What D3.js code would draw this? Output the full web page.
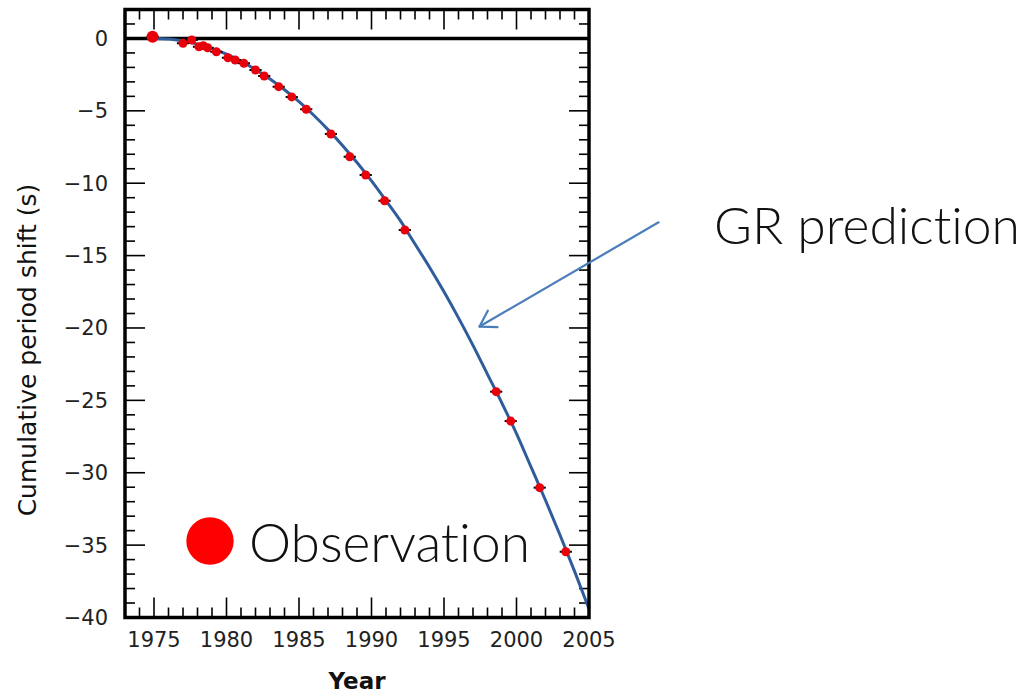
<!DOCTYPE html>
<html>
<head>
<meta charset="utf-8">
<script src="https://cdn.jsdelivr.net/npm/d3@7"></script>
<style>
  html, body { margin: 0; padding: 0; background: #fff; }
  svg { display: block; }
  .tick-label { font-family: "DejaVu Sans", sans-serif; font-size: 21px; fill: #222; }
  .axis-title { font-family: "DejaVu Sans", sans-serif; fill: #111; }
  .note { font-family: "Lato", "Open Sans", sans-serif; font-weight: 300; fill: #111;
          font-variant-ligatures: none; font-feature-settings: "liga" 0, "clig" 0; }
</style>
</head>
<body>
<svg id="chart" width="1033" height="694"></svg>
<script>
// Observed cumulative shift of periastron time (PSR B1913+16)
const obsYears  = [1974.9, 1977.0, 1977.6, 1978.1, 1978.4, 1978.7, 1979.3, 1980.1, 1980.6, 1981.2,
                   1982.0, 1982.6, 1983.6, 1984.5, 1985.5, 1987.2, 1988.5, 1989.6, 1990.9, 1992.3,
                   1998.6, 1999.6, 2001.6, 2003.4];
const obsShifts = [0.12, -0.34, -0.11, -0.57, -0.50, -0.64, -0.92, -1.33, -1.49, -1.72,
                   -2.18, -2.59, -3.33, -4.04, -4.89, -6.60, -8.17, -9.43, -11.21, -13.23,
                   -24.40, -26.43, -31.03, -35.46];

// General relativity prediction, sampled yearly
const grYears  = [1975, 1976, 1977, 1978, 1979, 1980, 1981, 1982, 1983, 1984, 1985,
                  1986, 1987, 1988, 1989, 1990, 1991, 1992, 1993, 1994, 1995,
                  1996, 1997, 1998, 1999, 2000, 2001, 2002, 2003, 2004, 2005];
const grShifts = [0, -0.04, -0.18, -0.39, -0.70, -1.09, -1.58, -2.14, -2.80, -3.54, -4.37,
                  -5.29, -6.30, -7.39, -8.57, -9.84, -11.2, -12.6, -14.2, -15.8, -17.5,
                  -19.3, -21.2, -23.2, -25.2, -27.3, -29.6, -31.9, -34.3, -36.8, -39.4];

const xTickLabels = [1975, 1980, 1985, 1990, 1995, 2000, 2005];
const yTickLabels = [0, -5, -10, -15, -20, -25, -30, -35, -40];

const svg = d3.select("#chart");
const W = 1033, H = 694;
svg.append("rect").attr("width", W).attr("height", H).attr("fill", "#fff");

const pLeft = 125, pRight = 589, pTop = 9.5, pBottom = 617.5;
const x = d3.scaleLinear().domain([1973, 2005]).range([pLeft, pRight]);
const y = d3.scaleLinear().domain([-40, 2]).range([pBottom, pTop]);

svg.append("defs").append("clipPath").attr("id", "plot-clip")
  .append("rect").attr("x", pLeft).attr("y", pTop)
  .attr("width", pRight - pLeft).attr("height", pBottom - pTop);

// inward ticks on all four sides
const minorX = d3.range(1974, 2005, 1).filter(v => v % 5 !== 0);
const minorY = d3.range(-39, 2, 1).filter(v => v % 5 !== 0);
const MAJ = 20, MIN = 10;

const ticks = svg.append("g").attr("stroke", "#000").attr("stroke-width", 1.6);
function xTicks(vals, len) {
  vals.forEach(v => {
    ticks.append("line").attr("x1", x(v)).attr("x2", x(v)).attr("y1", pBottom).attr("y2", pBottom - len);
    ticks.append("line").attr("x1", x(v)).attr("x2", x(v)).attr("y1", pTop).attr("y2", pTop + len);
  });
}
function yTicks(vals, len) {
  vals.forEach(v => {
    ticks.append("line").attr("y1", y(v)).attr("y2", y(v)).attr("x1", pLeft).attr("x2", pLeft + len);
    ticks.append("line").attr("y1", y(v)).attr("y2", y(v)).attr("x1", pRight).attr("x2", pRight - len);
  });
}
xTicks(minorX, MIN);
xTicks(xTickLabels, MAJ);
yTicks(minorY, MIN);
yTicks(yTickLabels, MAJ);

// zero reference line
svg.append("line")
  .attr("x1", pLeft).attr("x2", pRight).attr("y1", y(0)).attr("y2", y(0))
  .attr("stroke", "#000").attr("stroke-width", 3.5);

// tick labels
svg.append("g").selectAll("text").data(xTickLabels).join("text")
  .attr("class", "tick-label")
  .attr("x", d => x(d)).attr("y", pBottom + 29)
  .attr("text-anchor", "middle")
  .text(d => d);

svg.append("g").selectAll("text").data(yTickLabels).join("text")
  .attr("class", "tick-label")
  .attr("x", pLeft - 17).attr("y", d => y(d) + 7.5)
  .attr("text-anchor", "end")
  .text(d => d === 0 ? "0" : "\u2212" + Math.abs(d));

// axis titles
svg.append("text").attr("class", "axis-title")
  .attr("x", 357).attr("y", 689)
  .attr("font-size", 23)
  .attr("text-anchor", "middle").attr("font-weight", "bold")
  .text("Year");

svg.append("text").attr("class", "axis-title")
  .attr("font-size", 25)
  .attr("transform", "translate(36,350) rotate(-90)")
  .attr("text-anchor", "middle")
  .text("Cumulative period shift (s)");

// GR prediction curve
const plot = svg.append("g").attr("clip-path", "url(#plot-clip)");
const grData = grYears.map((t, i) => [t, grShifts[i]]);
plot.append("path")
  .datum(grData)
  .attr("fill", "none")
  .attr("stroke", "#2f5d9b")
  .attr("stroke-width", 3)
  .attr("d", d3.line().x(d => x(d[0])).y(d => y(d[1])).curve(d3.curveMonotoneX));

// observations: black error bars with red markers
const obs = obsYears.map((t, i) => ({ t, v: obsShifts[i] }));
plot.append("g").selectAll("line").data(obs).join("line")
  .attr("x1", d => x(d.t - 0.42)).attr("x2", d => x(d.t + 0.42))
  .attr("y1", d => y(d.v)).attr("y2", d => y(d.v))
  .attr("stroke", "#000").attr("stroke-width", 2);
plot.append("g").selectAll("circle").data(obs).join("circle")
  .attr("cx", d => x(d.t)).attr("cy", d => y(d.v))
  .attr("r", (d, i) => i === 0 ? 6 : 4.5)
  .attr("fill", "#e8000b");

// frame
svg.append("rect")
  .attr("x", pLeft).attr("y", pTop)
  .attr("width", pRight - pLeft).attr("height", pBottom - pTop)
  .attr("fill", "none").attr("stroke", "#000").attr("stroke-width", 3.5);

// annotation: arrow to the prediction curve
const tail = [x(2009.8), y(-12.7)];
const tip = [x(1997.45), y(-19.9)];
const ang = Math.atan2(tail[1] - tip[1], tail[0] - tip[0]);
const headLen = 18, spread = 32 * Math.PI / 180;
const arrow = svg.append("g").attr("stroke", "#4a7ebb").attr("stroke-width", 2.2)
  .attr("fill", "none").attr("stroke-linecap", "round").attr("stroke-linejoin", "round");
arrow.append("line").attr("x1", tail[0]).attr("y1", tail[1]).attr("x2", tip[0]).attr("y2", tip[1]);
arrow.append("path").attr("d",
  `M${tip[0] + headLen * Math.cos(ang - spread)},${tip[1] + headLen * Math.sin(ang - spread)}` +
  `L${tip[0]},${tip[1]}` +
  `L${tip[0] + headLen * Math.cos(ang + spread)},${tip[1] + headLen * Math.sin(ang + spread)}`);

// large light-weight captions, fitted to a target width
function caption(str, x0, base, size, width) {
  const t = svg.append("text").attr("class", "note")
    .attr("x", x0).attr("y", base).attr("font-size", size).text(str);
  const natural = t.node().getComputedTextLength();
  if (natural > width) t.attr("font-size", size * width / natural);
  t.attr("textLength", width).attr("lengthAdjust", "spacingAndGlyphs");
  return t;
}

caption("GR prediction", 714, 244, 61, 306);

// legend
svg.append("circle").attr("cx", 210).attr("cy", 541).attr("r", 23.7).attr("fill", "#ff0000");
caption("Observation", 249, 562, 60, 281);
</script>
</body>
</html>
